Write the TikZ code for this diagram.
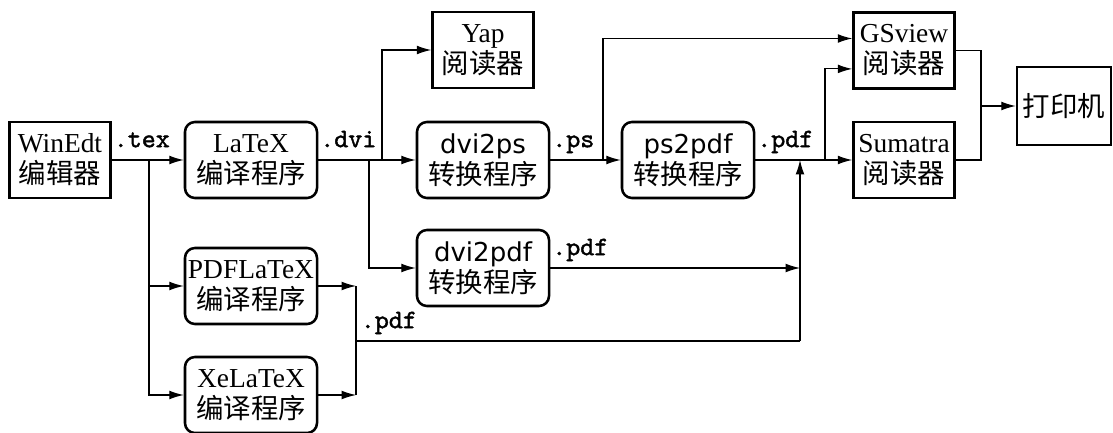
\documentclass[tikz,border=0pt]{standalone}
\usepackage{fontspec}
\setmainfont{Liberation Serif}
\setsansfont{DejaVu Sans}
\newfontfamily\zhfont{Noto Sans CJK SC}
\newfontfamily\extfont{lmmono10-regular.otf}[FakeBold=1.5]
\usetikzlibrary{arrows.meta}

\newcommand\zh[1]{{\zhfont #1}}
\newcommand\sfname[1]{{\sffamily\fontsize{18.5}{22}\selectfont #1}}

\begin{document}
\begin{tikzpicture}[x=0.025cm,y=-0.025cm,
    box/.style={draw,line width=1.8pt,inner sep=1pt,align=center,
        minimum width=2.525cm,minimum height=1.9cm,
        font=\fontsize{19.5}{22}\selectfont},
    prog/.style={box,rounded corners=0.25cm,minimum width=3.3cm},
    link/.style={line width=0.8pt},
    arr/.style={link,-{Latex[length=3.6mm,width=2.2mm]}},
    ext/.style={font=\extfont\fontsize{19}{20}\selectfont,
        anchor=base west,inner sep=1pt,yshift=0.32cm}]

    \useasboundingbox (0,0) rectangle (1113,433);

    % boxes
    \node[box] (winedt) at (60,160) {WinEdt\\\zh{编辑器}};
    \node[prog] (latex) at (251,160) {LaTeX\\\zh{编译程序}};
    \node[box] (yap) at (483,50) {Yap\\\zh{阅读器}};
    \node[prog] (dvips) at (483,160) {\sfname{dvi2ps}\\\zh{转换程序}};
    \node[prog] (pspdf) at (688,160) {\sfname{ps2pdf}\\\zh{转换程序}};
    \node[box] (gsview) at (904,50.5) {GSview\\\zh{阅读器}};
    \node[box] (sumatra) at (904,160) {Sumatra\\\zh{阅读器}};
    \node[box,minimum width=2.35cm,minimum height=1.95cm]
        (printer) at (1064,106) {\zh{打印机}};
    \node[prog] (dvipdf) at (483,268) {\sfname{dvi2pdf}\\\zh{转换程序}};
    \node[prog] (pdflatex) at (251,286) {PDFLaTeX\\\zh{编译程序}};
    \node[prog] (xelatex) at (251,395) {XeLaTeX\\\zh{编译程序}};

    % main chain
    \draw[arr] (winedt) -- (latex) node[ext,pos=0]{.tex};
    \draw[arr] (latex) -- (dvips) node[ext,pos=0]{.dvi};
    \draw[arr] (dvips) -- (pspdf) node[ext,pos=0]{.ps};
    \draw[arr] (pspdf) -- (sumatra) node[ext,pos=0]{.pdf};

    % branches
    \coordinate (texfork) at (149,160);
    \draw[arr] (texfork) |- (pdflatex);
    \draw[arr] (texfork) |- (xelatex);
    \coordinate (dvifork) at (369,160);
    \coordinate (yapfork) at (382,160);
    \draw[arr] (yapfork) |- (yap);
    \draw[arr] (dvifork) |- (dvipdf);
    \coordinate (psfork) at (603,160);
    \draw[arr] (psfork) |- ([yshift=0.3cm]gsview.west);
    \coordinate (pdffork) at (825,160);
    \draw[arr] (pdffork) |- ([yshift=-0.46cm]gsview.west);

    % other pdf outputs
    \coordinate (pdfup) at (800,160);
    \coordinate (pdfbot) at (800,341);
    \draw[arr] (pdfbot) -- (pdfup);
    \draw[arr] (dvipdf) -- (dvipdf -| pdfbot) node[ext,pos=0]{.pdf};
    \coordinate (texjoin) at (356,341);
    \draw[arr] (pdflatex) -- (pdflatex -| texjoin);
    \draw[arr] (xelatex) -- (xelatex -| texjoin);
    \draw[link] (pdflatex -| texjoin) -- (xelatex -| texjoin);
    \draw[link] (texjoin) -- (pdfbot) node[ext,pos=0,xshift=2pt]{.pdf};

    % printer
    \coordinate (prtjoin) at (981,106);
    \draw[link] (gsview) -| (prtjoin);
    \draw[link] (sumatra) -| (prtjoin);
    \draw[arr] (prtjoin) -- (printer);
\end{tikzpicture}
\end{document}
